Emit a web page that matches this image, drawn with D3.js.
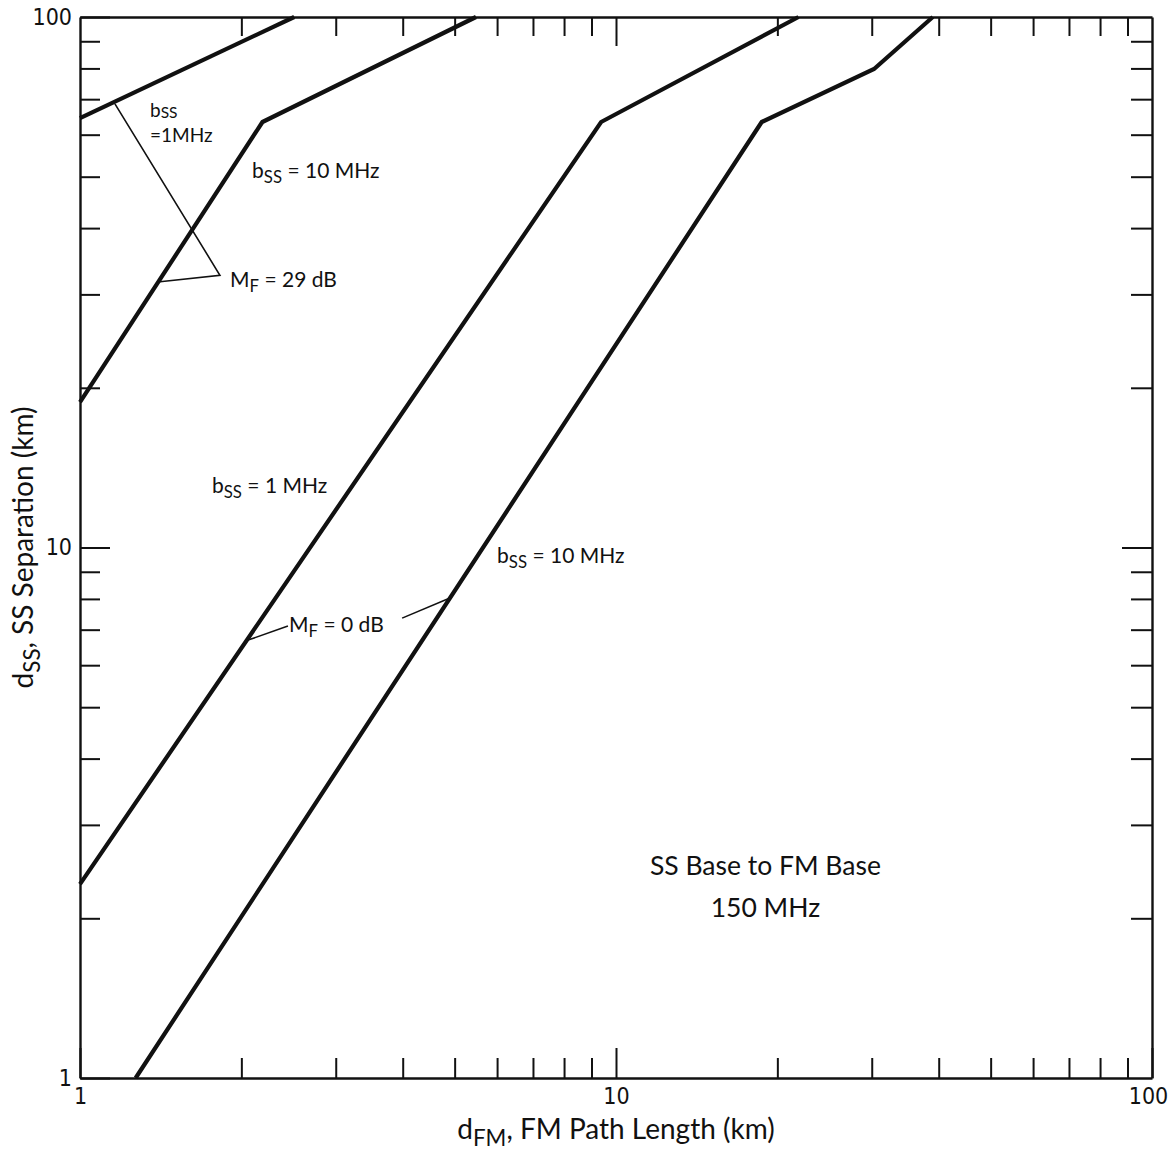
<!DOCTYPE html>
<html><head><meta charset="utf-8">
<script src="https://cdn.jsdelivr.net/npm/d3@7"></script>
<style>body{margin:0;background:#fff}svg{display:block}</style>
</head><body><svg id="c" width="1172" height="1162"></svg>
<script>
// ---- data ----
const xDomain = [1, 100];
const yDomain = [1, 100];
const minorTicks = [2,3,4,5,6,7,8,9,20,30,40,50,60,70,80,90];
const majorTicks = [1, 10, 100];
const tickLabels = ["1", "10", "100"];

// curve: bSS = 1 MHz, MF = 29 dB
const c1mhz29_x = [1, 2.51];
const c1mhz29_y = [64.5, 100];
// curve: bSS = 10 MHz, MF = 29 dB
const c10mhz29_x = [1, 2.19, 5.48];
const c10mhz29_y = [18.8, 63.4, 100];
// curve: bSS = 1 MHz, MF = 0 dB
const c1mhz0_x = [1, 9.38, 21.9];
const c1mhz0_y = [2.32, 63.4, 100];
// curve: bSS = 10 MHz, MF = 0 dB
const c10mhz0_x = [1.27, 18.7, 30.3, 39.0];
const c10mhz0_y = [1, 63.4, 79.8, 100];

// leader lines (data coordinates)
const leader29_x = [1.162, 1.824, 1.41];
const leader29_y = [68.6, 32.6, 31.7];
const leader0a_x = [2.058, 2.443];
const leader0a_y = [6.69, 7.11];
const leader0b_x = [3.99, 4.90];
const leader0b_y = [7.36, 8.03];

// ---- layout ----
const W = 1172, H = 1162;
const L = 80, R = 1152, T = 17, B = 1078;
const FONT = "Lato, 'Open Sans', 'DejaVu Sans', sans-serif";
const NUMFONT = "'Liberation Sans Narrow', 'DejaVu Sans Condensed', Lato, sans-serif";
const svg = d3.select("#c");
svg.append("rect").attr("width", W).attr("height", H).attr("fill", "#fff");

const x = d3.scaleLog().domain(xDomain).range([L, R]);
const y = d3.scaleLog().domain(yDomain).range([B, T]);

const fmt = d => tickLabels[majorTicks.indexOf(d)];

function styleAxis(g) {
  g.selectAll("path.domain").attr("stroke", "#111").attr("stroke-width", 2.4);
  g.selectAll(".tick line").attr("stroke", "#111").attr("stroke-width", 2);
  g.selectAll(".tick text").attr("font-family", NUMFONT).attr("font-size", 23).attr("fill", "#111");
}

// bottom
svg.append("g").attr("transform", `translate(0,${B})`)
  .call(d3.axisBottom(x).tickValues(minorTicks).tickSizeInner(-20).tickSizeOuter(0).tickFormat(""))
  .call(styleAxis);
svg.append("g").attr("transform", `translate(0,${B})`)
  .call(d3.axisBottom(x).tickValues(majorTicks).tickSizeInner(-30).tickSizeOuter(0).tickPadding(10).tickFormat(fmt))
  .call(styleAxis).call(g => g.select("path.domain").remove())
  .call(g => g.selectAll(".tick text").filter(d => d === 100).attr("dx", -4));
// top
svg.append("g").attr("transform", `translate(0,${T})`)
  .call(d3.axisTop(x).tickValues(minorTicks).tickSizeInner(-19).tickSizeOuter(0).tickFormat(""))
  .call(styleAxis);
svg.append("g").attr("transform", `translate(0,${T})`)
  .call(d3.axisTop(x).tickValues([10]).tickSizeInner(-29).tickSizeOuter(0).tickFormat(""))
  .call(styleAxis).call(g => g.select("path.domain").remove());
// left
svg.append("g").attr("transform", `translate(${L},0)`)
  .call(d3.axisLeft(y).tickValues(minorTicks).tickSizeInner(-20).tickSizeOuter(0).tickFormat(""))
  .call(styleAxis);
svg.append("g").attr("transform", `translate(${L},0)`)
  .call(d3.axisLeft(y).tickValues(majorTicks).tickSizeInner(-30).tickSizeOuter(0).tickPadding(8).tickFormat(fmt))
  .call(styleAxis).call(g => g.select("path.domain").remove());
// right
svg.append("g").attr("transform", `translate(${R},0)`)
  .call(d3.axisRight(y).tickValues(minorTicks).tickSizeInner(-21).tickSizeOuter(0).tickFormat(""))
  .call(styleAxis);
svg.append("g").attr("transform", `translate(${R},0)`)
  .call(d3.axisRight(y).tickValues([10]).tickSizeInner(-30).tickSizeOuter(0).tickFormat(""))
  .call(styleAxis).call(g => g.select("path.domain").remove());

// ---- curves ----
const line = d3.line().x(d => x(d[0])).y(d => y(d[1]));
const zip = (xs, ys) => xs.map((v, i) => [v, ys[i]]);
[[c1mhz29_x, c1mhz29_y], [c10mhz29_x, c10mhz29_y], [c1mhz0_x, c1mhz0_y], [c10mhz0_x, c10mhz0_y]]
  .forEach(([xs, ys]) => {
    svg.append("path").attr("d", line(zip(xs, ys)))
      .attr("fill", "none").attr("stroke", "#111").attr("stroke-width", 4.2)
      .attr("stroke-linejoin", "miter").attr("stroke-linecap", "butt");
  });
[[leader29_x, leader29_y], [leader0a_x, leader0a_y], [leader0b_x, leader0b_y]]
  .forEach(([xs, ys]) => {
    svg.append("path").attr("d", line(zip(xs, ys)))
      .attr("fill", "none").attr("stroke", "#111").attr("stroke-width", 1.6);
  });

// ---- annotations ----
function rich(sel, parts, size, subShift) {
  parts.forEach(([t, sub], i) => {
    const prevSub = i > 0 && parts[i-1][1];
    const ts = sel.append("tspan").text(t);
    if (sub) ts.attr("font-size", size * 0.8).attr("dy", subShift);
    else if (prevSub) ts.attr("dy", -subShift);
  });
}
const annotations = [
  {x: 2.094, y: 49.7, parts: [["b",0],["SS",1],[" = 10 MHz",0]]},
  {x: 1.905, y: 31.0, parts: [["M",0],["F",1],[" = 29 dB",0]]},
  {x: 1.763, y: 12.67, parts: [["b",0],["SS",1],[" = 1 MHz",0]]},
  {x: 2.455, y: 6.93, parts: [["M",0],["F",1],[" = 0 dB",0]]},
  {x: 6.00, y: 9.35, parts: [["b",0],["SS",1],[" = 10 MHz",0]]},
];
const ASIZE = 21;
annotations.forEach(a => {
  const t = svg.append("text").attr("x", x(a.x)).attr("y", y(a.y))
    .attr("font-family", FONT).attr("font-size", ASIZE).attr("fill", "#111");
  rich(t, a.parts, ASIZE, 5);
});
// two-line label "bSS" / "=1MHz"
const topLabel = {x: 1.351, y1: 64.8, y2: 58.1};
const t1 = svg.append("text").attr("x", x(topLabel.x)).attr("y", y(topLabel.y1))
  .attr("font-family", FONT).attr("font-size", 19).attr("fill", "#111");
t1.append("tspan").text("b");
t1.append("tspan").attr("font-size", 15.5).attr("dy", 1).text("SS");
svg.append("text").attr("x", x(topLabel.x)).attr("y", y(topLabel.y2))
  .attr("font-family", FONT).attr("font-size", 19).attr("fill", "#111").text("=1MHz");

const centerNotes = [
  {x: 19.0, y: 2.414, text: "SS Base to FM Base"},
  {x: 19.0, y: 2.012, text: "150 MHz"},
];
centerNotes.forEach(n => {
  svg.append("text").attr("x", x(n.x)).attr("y", y(n.y)).attr("text-anchor", "middle")
    .attr("font-family", FONT).attr("font-size", 26.5).attr("fill", "#111").text(n.text);
});

// ---- axis titles ----
const xt = svg.append("text").attr("x", (L + R) / 2).attr("y", 1139).attr("text-anchor", "middle")
  .attr("font-family", FONT).attr("font-size", 28).attr("fill", "#111");
rich(xt, [["d",0],["FM",1],[", FM Path Length (km)",0]], 28, 7);
const yt = svg.append("text").attr("transform", `translate(33,${(T + B) / 2}) rotate(-90)`)
  .attr("text-anchor", "middle")
  .attr("font-family", FONT).attr("font-size", 28).attr("fill", "#111");
rich(yt, [["d",0],["SS",1],[", SS Separation (km)",0]], 28, 7);
</script></body></html>
